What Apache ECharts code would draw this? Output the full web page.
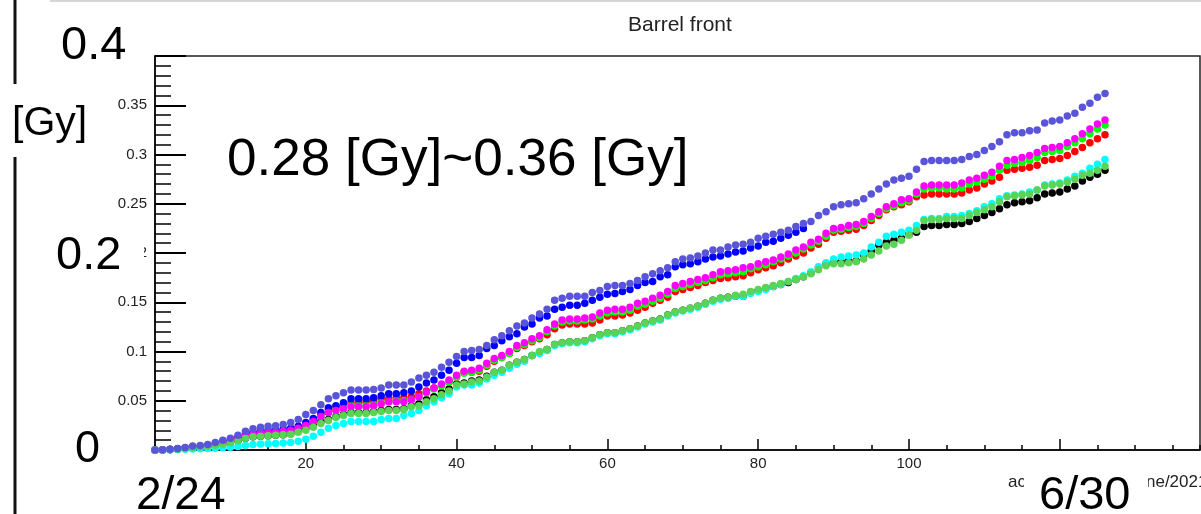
<!DOCTYPE html>
<html><head><meta charset="utf-8">
<script src="https://cdn.jsdelivr.net/npm/echarts@6/dist/echarts.min.js"></script>
<style>html,body{margin:0;padding:0;background:#fff}#c{width:1201px;height:514px}</style>
</head><body><div id="c"></div>
<script>
// Day index 0..126 (2/24 .. 6/30), accumulated dose [Gy]
const black = [
 0, 0.0002, 0.0005, 0.0008, 0.0015, 0.0025, 0.003, 0.0037, 0.0047, 0.006, 0.0075, 0.0095, 0.012, 0.0135, 0.014, 0.0145, 0.015, 0.0155, 0.0165, 0.019, 0.022, 0.025, 0.029, 0.031, 0.034, 0.036,
 0.038, 0.038, 0.038, 0.039, 0.040, 0.041, 0.041, 0.042, 0.045, 0.047, 0.051, 0.054, 0.058, 0.062, 0.067, 0.068, 0.070, 0.071, 0.075, 0.079, 0.081, 0.086, 0.089, 0.092, 0.096, 0.099, 0.102, 0.107,
 0.109, 0.110, 0.110, 0.111, 0.114, 0.117, 0.119, 0.119, 0.121, 0.123, 0.126, 0.129, 0.131, 0.133, 0.137, 0.140, 0.142, 0.144, 0.146, 0.149, 0.152, 0.154, 0.155, 0.156, 0.156,
 0.160, 0.162, 0.164, 0.166, 0.168, 0.170, 0.173, 0.176, 0.180, 0.185, 0.189, 0.192, 0.191, 0.192, 0.192, 0.198, 0.202, 0.208, 0.211, 0.213, 0.215, 0.219, 0.221, 0.227, 0.228, 0.228,
 0.229, 0.229, 0.230, 0.232, 0.235, 0.238, 0.241, 0.245, 0.249, 0.251, 0.252, 0.253, 0.256, 0.260, 0.261, 0.262, 0.265, 0.268, 0.273, 0.277, 0.280, 0.284
];
const red = [
 0, 0.0002, 0.0005, 0.001, 0.0018, 0.0028, 0.0033, 0.004, 0.0055, 0.0075, 0.0095, 0.012, 0.015, 0.017, 0.018, 0.0185, 0.019, 0.0195, 0.021, 0.023, 0.027, 0.031, 0.036, 0.041, 0.044, 0.046,
 0.048, 0.048, 0.049, 0.050, 0.052, 0.052, 0.053, 0.053, 0.054, 0.057, 0.060, 0.063, 0.066, 0.069, 0.074, 0.079, 0.079, 0.080, 0.085, 0.090, 0.094, 0.098, 0.103, 0.106, 0.110, 0.113, 0.117, 0.123,
 0.127, 0.128, 0.128, 0.128, 0.129, 0.132, 0.136, 0.136, 0.137, 0.139, 0.142, 0.145, 0.149, 0.152, 0.155, 0.161, 0.163, 0.165, 0.167, 0.170, 0.172, 0.174, 0.175, 0.176, 0.177,
 0.180, 0.183, 0.185, 0.187, 0.190, 0.194, 0.197, 0.200, 0.205, 0.209, 0.215, 0.221, 0.222, 0.223, 0.224, 0.228, 0.233, 0.238, 0.244, 0.247, 0.249, 0.252, 0.257, 0.259, 0.260, 0.260,
 0.260, 0.260, 0.261, 0.264, 0.266, 0.270, 0.273, 0.277, 0.284, 0.285, 0.286, 0.287, 0.289, 0.294, 0.295, 0.296, 0.299, 0.303, 0.307, 0.312, 0.316, 0.320
];
const lime = [
 0, 0.0002, 0.0005, 0.001, 0.0017, 0.0027, 0.0032, 0.0039, 0.0053, 0.0072, 0.009, 0.0115, 0.014, 0.016, 0.017, 0.0175, 0.018, 0.0185, 0.0195, 0.0215, 0.025, 0.029, 0.034, 0.038, 0.041, 0.043,
 0.045, 0.045, 0.045, 0.046, 0.048, 0.049, 0.050, 0.050, 0.051, 0.054, 0.058, 0.062, 0.065, 0.069, 0.074, 0.078, 0.079, 0.081, 0.086, 0.091, 0.094, 0.098, 0.104, 0.107, 0.111, 0.114, 0.120, 0.126,
 0.130, 0.131, 0.131, 0.132, 0.133, 0.136, 0.139, 0.140, 0.140, 0.142, 0.146, 0.148, 0.151, 0.154, 0.158, 0.164, 0.166, 0.168, 0.170, 0.172, 0.175, 0.178, 0.179, 0.180, 0.181,
 0.184, 0.186, 0.188, 0.191, 0.194, 0.197, 0.200, 0.204, 0.208, 0.212, 0.217, 0.223, 0.224, 0.226, 0.227, 0.230, 0.235, 0.240, 0.245, 0.248, 0.251, 0.253, 0.260, 0.265, 0.266, 0.266,
 0.265, 0.265, 0.266, 0.270, 0.272, 0.275, 0.278, 0.284, 0.289, 0.291, 0.292, 0.294, 0.297, 0.302, 0.303, 0.304, 0.308, 0.312, 0.316, 0.321, 0.326, 0.330
];
const blue = [
 0, 0.0002, 0.0006, 0.0012, 0.002, 0.003, 0.0035, 0.0045, 0.006, 0.008, 0.010, 0.013, 0.016, 0.018, 0.019, 0.020, 0.020, 0.021, 0.022, 0.024, 0.028, 0.032, 0.038, 0.043, 0.045, 0.048,
 0.052, 0.052, 0.052, 0.053, 0.055, 0.057, 0.057, 0.058, 0.060, 0.064, 0.068, 0.071, 0.076, 0.081, 0.088, 0.094, 0.094, 0.096, 0.103, 0.106, 0.111, 0.115, 0.118, 0.125, 0.128, 0.134, 0.136, 0.143,
 0.145, 0.147, 0.147, 0.149, 0.152, 0.155, 0.158, 0.159, 0.161, 0.163, 0.167, 0.170, 0.171, 0.176, 0.178, 0.186, 0.188, 0.189, 0.191, 0.194, 0.196, 0.197, 0.199, 0.201, 0.202,
 0.205, 0.207, 0.211, 0.212, 0.215, 0.218, 0.221, 0.225
];
const magenta = [
 0, 0.0002, 0.0005, 0.001, 0.0018, 0.0028, 0.0033, 0.004, 0.0055, 0.0075, 0.0095, 0.012, 0.0145, 0.0165, 0.0175, 0.018, 0.0185, 0.019, 0.020, 0.022, 0.025, 0.029, 0.034, 0.038, 0.040, 0.042,
 0.044, 0.044, 0.044, 0.045, 0.047, 0.049, 0.049, 0.049, 0.051, 0.054, 0.059, 0.063, 0.067, 0.071, 0.076, 0.080, 0.081, 0.083, 0.088, 0.093, 0.096, 0.100, 0.106, 0.109, 0.113, 0.116, 0.122, 0.128,
 0.132, 0.133, 0.133, 0.134, 0.135, 0.139, 0.142, 0.143, 0.143, 0.145, 0.149, 0.151, 0.154, 0.157, 0.161, 0.167, 0.169, 0.171, 0.173, 0.175, 0.178, 0.181, 0.182, 0.183, 0.185,
 0.186, 0.189, 0.191, 0.193, 0.196, 0.199, 0.203, 0.206, 0.211, 0.214, 0.220, 0.225, 0.226, 0.228, 0.229, 0.232, 0.237, 0.242, 0.247, 0.250, 0.254, 0.255, 0.262, 0.268, 0.269, 0.269,
 0.269, 0.269, 0.271, 0.274, 0.276, 0.279, 0.282, 0.288, 0.294, 0.295, 0.297, 0.299, 0.302, 0.306, 0.307, 0.308, 0.312, 0.316, 0.321, 0.326, 0.331, 0.335
];
const cyan = [
 0, 0, 0.0002, 0.0004, 0.0007, 0.001, 0.0012, 0.0015, 0.0018, 0.0022, 0.0028, 0.0035, 0.0045, 0.0055, 0.006, 0.0063, 0.0065, 0.007, 0.0075, 0.009, 0.011, 0.014, 0.018, 0.022, 0.025, 0.027,
 0.029, 0.029, 0.029, 0.029, 0.031, 0.032, 0.032, 0.035, 0.037, 0.040, 0.045, 0.049, 0.053, 0.057, 0.064, 0.066, 0.066, 0.068, 0.072, 0.076, 0.079, 0.083, 0.087, 0.090, 0.096, 0.098, 0.101, 0.106,
 0.108, 0.109, 0.109, 0.110, 0.113, 0.116, 0.118, 0.118, 0.120, 0.122, 0.125, 0.128, 0.130, 0.132, 0.136, 0.139, 0.141, 0.143, 0.145, 0.148, 0.151, 0.153, 0.154, 0.156, 0.156,
 0.159, 0.161, 0.163, 0.166, 0.168, 0.171, 0.174, 0.177, 0.181, 0.186, 0.190, 0.194, 0.196, 0.197, 0.198, 0.200, 0.206, 0.211, 0.217, 0.219, 0.221, 0.223, 0.228, 0.234, 0.235, 0.235,
 0.237, 0.237, 0.238, 0.240, 0.243, 0.247, 0.250, 0.255, 0.258, 0.259, 0.260, 0.262, 0.264, 0.269, 0.270, 0.271, 0.274, 0.278, 0.281, 0.286, 0.290, 0.295
];
const green = [
 0, 0.0002, 0.0005, 0.0008, 0.0015, 0.0025, 0.003, 0.0037, 0.0047, 0.006, 0.0075, 0.0095, 0.012, 0.0135, 0.014, 0.0145, 0.015, 0.0155, 0.016, 0.018, 0.020, 0.023, 0.027, 0.030, 0.033, 0.035,
 0.037, 0.037, 0.037, 0.038, 0.039, 0.040, 0.040, 0.041, 0.044, 0.045, 0.049, 0.052, 0.056, 0.060, 0.066, 0.067, 0.069, 0.070, 0.074, 0.079, 0.081, 0.086, 0.089, 0.092, 0.096, 0.100, 0.102, 0.107,
 0.109, 0.110, 0.110, 0.111, 0.114, 0.117, 0.119, 0.119, 0.121, 0.123, 0.126, 0.129, 0.131, 0.133, 0.137, 0.140, 0.142, 0.144, 0.146, 0.149, 0.152, 0.154, 0.155, 0.157, 0.158,
 0.161, 0.163, 0.165, 0.167, 0.169, 0.171, 0.173, 0.176, 0.179, 0.183, 0.187, 0.189, 0.189, 0.190, 0.191, 0.194, 0.198, 0.202, 0.207, 0.209, 0.213, 0.218, 0.223, 0.233, 0.234, 0.234,
 0.235, 0.235, 0.235, 0.238, 0.241, 0.244, 0.247, 0.252, 0.257, 0.258, 0.259, 0.260, 0.264, 0.268, 0.269, 0.270, 0.272, 0.275, 0.279, 0.281, 0.284, 0.288
];
const slateBlue = [
 0, 0.0003, 0.0008, 0.0015, 0.0025, 0.004, 0.0045, 0.0055, 0.0075, 0.010, 0.012, 0.015, 0.019, 0.0215, 0.023, 0.024, 0.0245, 0.026, 0.028, 0.031, 0.036, 0.040, 0.046, 0.052, 0.055, 0.058,
 0.061, 0.061, 0.061, 0.0615, 0.063, 0.066, 0.066, 0.066, 0.069, 0.073, 0.076, 0.079, 0.084, 0.089, 0.095, 0.100, 0.101, 0.102, 0.106, 0.112, 0.116, 0.121, 0.126, 0.129, 0.134, 0.138, 0.143, 0.152,
 0.154, 0.156, 0.156, 0.156, 0.160, 0.162, 0.166, 0.167, 0.167, 0.169, 0.172, 0.176, 0.179, 0.182, 0.185, 0.191, 0.194, 0.195, 0.197, 0.200, 0.203, 0.203, 0.206, 0.208, 0.209,
 0.211, 0.215, 0.217, 0.219, 0.221, 0.223, 0.227, 0.230, 0.232, 0.238, 0.242, 0.247, 0.249, 0.250, 0.251, 0.255, 0.260, 0.265, 0.270, 0.274, 0.276, 0.278, 0.285, 0.293, 0.294, 0.294,
 0.294, 0.294, 0.295, 0.298, 0.300, 0.304, 0.308, 0.313, 0.320, 0.322, 0.322, 0.324, 0.325, 0.332, 0.334, 0.335, 0.339, 0.342, 0.348, 0.352, 0.358, 0.362
];
const seriesNames = ['ch1', 'ch2', 'ch3', 'ch4', 'ch6', 'ch7', 'ch8', 'ch9'];
const seriesValues = [black, red, lime, blue, magenta, cyan, green, slateBlue];
const seriesColors = ['#000000', '#ff0000', '#00ff00', '#0000ff', '#ff00ff', '#00ffff', '#59d454', '#5954d9'];
const titleText = 'Barrel front';
const xAxisTitle = 'accumulated to June/2021';
const bigText = '0.28 [Gy]~0.36 [Gy]';
const yUnit = '[Gy]';
const yOverlayLabels = ['0.4', '0.2', '0'];
const dateLabels = ['2/24', '6/30'];

const FONT = '"Liberation Sans", Arial, sans-serif';
const chart = echarts.init(document.getElementById('c'), null, {renderer: 'canvas'});

function box(x, y, w, h) {
  return {type: 'rect', z: 50, shape: {x: x, y: y, width: w, height: h}, style: {fill: '#fff'}, silent: true};
}
function label(text, x, y, size, sx) {
  return {type: 'text', z: 60, x: x, y: y, scaleX: sx || 1, style: {text: text, font: size + 'px ' + FONT, fill: '#000', align: 'left', verticalAlign: 'middle'}, silent: true};
}

const option = {
  animation: false,
  backgroundColor: '#fff',
  title: {text: titleText, left: 623, top: 10, textStyle: {fontSize: 21, fontWeight: 'normal', color: '#222', fontFamily: FONT}},
  grid: {left: 155, right: 1, top: 56, bottom: 64, show: true, borderColor: '#222', borderWidth: 1.5, backgroundColor: 'transparent'},
  xAxis: [
    {type: 'value', min: 0, max: 138.6, interval: 20, position: 'bottom',
     axisLine: {lineStyle: {color: '#000', width: 1.5}},
     axisTick: {inside: true, length: 11, lineStyle: {color: '#000', width: 1.5}},
     axisLabel: {fontSize: 15, color: '#222', margin: 6, fontFamily: FONT, showMinLabel: false, showMaxLabel: false},
     splitLine: {show: false}},
    {type: 'value', min: 0, max: 138.6, interval: 5, position: 'bottom',
     axisLine: {show: false},
     axisTick: {inside: true, length: 5, lineStyle: {color: '#000', width: 1.5}},
     axisLabel: {show: false}, splitLine: {show: false}}
  ],
  yAxis: {type: 'value', min: 0, max: 0.4, interval: 0.05,
    axisLine: {show: true, lineStyle: {color: '#000', width: 1.5}},
    axisTick: {inside: true, length: 31, lineStyle: {color: '#000', width: 2}},
    minorTick: {show: true, splitNumber: 5, length: 16, lineStyle: {color: '#000', width: 1.5}},
    minorSplitLine: {show: false},
    axisLabel: {fontSize: 15, color: '#222', margin: 8, fontFamily: FONT, showMinLabel: true, showMaxLabel: false},
    splitLine: {show: false}},
  series: seriesValues.map((vals, k) => ({
    name: seriesNames[k], type: 'scatter', xAxisIndex: 0, yAxisIndex: 0,
    symbol: 'circle', symbolSize: 7.5,
    itemStyle: {color: seriesColors[k], opacity: 1},
    data: vals.map((v, i) => [i, v])
  })),
  graphic: [
    {type: 'line', z: 40, shape: {x1: 50, y1: 1, x2: 1201, y2: 1}, style: {stroke: '#d6d6d6', lineWidth: 2}, silent: true},
    {type: 'line', z: 40, shape: {x1: 15, y1: 0, x2: 15, y2: 514}, style: {stroke: '#111', lineWidth: 3}, silent: true},
    {type: 'text', z: 45, x: 1008, y: 482, style: {text: xAxisTitle, font: '17px ' + FONT, fill: '#222', align: 'left', verticalAlign: 'middle'}, silent: true},
    box(52, 20, 84, 50), label(yOverlayLabels[0], 61, 46, 47),
    box(4, 84, 92, 73), label(yUnit, 12, 124, 41),
    box(215, 128, 490, 62), label(bigText, 227, 161, 51, 1.04),
    box(50, 228, 94, 54), label(yOverlayLabels[1], 56, 256, 47),
    box(62, 427, 88, 44), label(yOverlayLabels[2], 75, 450, 45),
    box(124, 460, 116, 54), label(dateLabels[0], 136, 496, 46),
    box(1024, 456, 124, 58), label(dateLabels[1], 1039, 496, 47)
  ]
};
chart.setOption(option);
</script>
</body></html>
